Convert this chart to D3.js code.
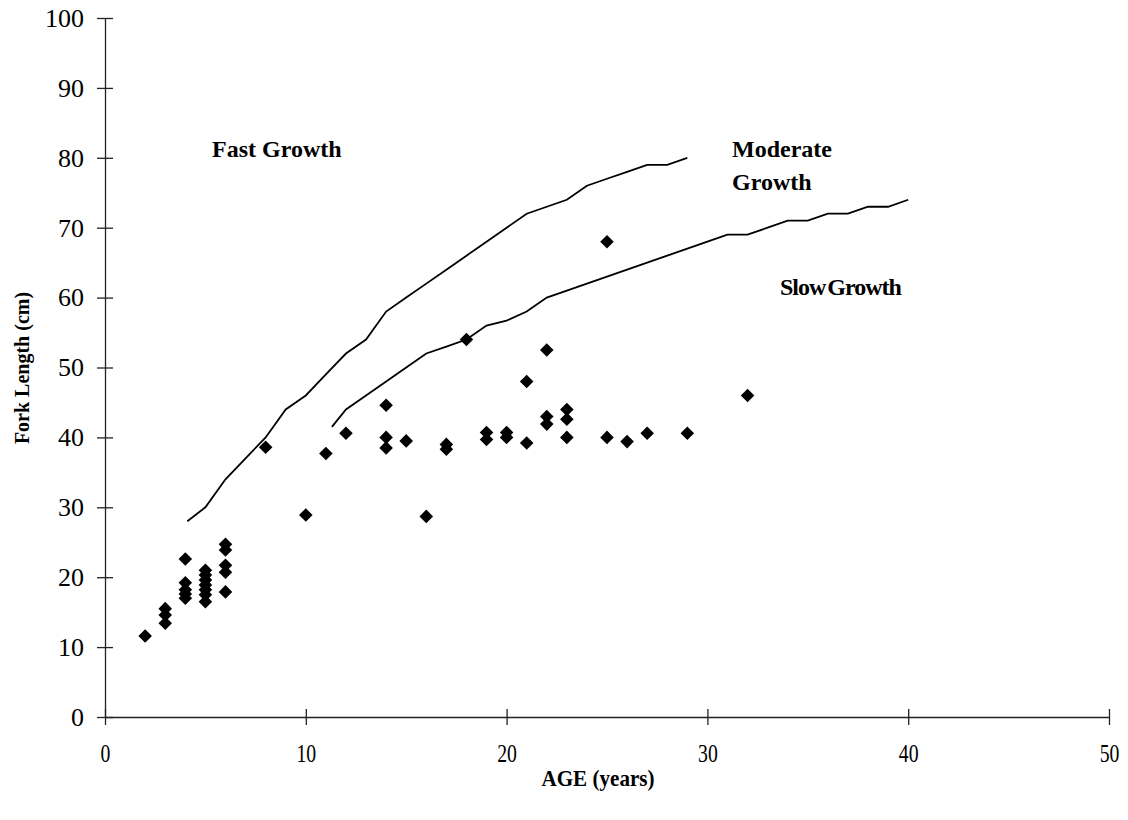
<!DOCTYPE html>
<html>
<head>
<meta charset="utf-8">
<script src="https://cdn.jsdelivr.net/npm/d3@7"></script>
<style>
  body { margin: 0; background: #fff; }
  svg { display: block; font-family: "Liberation Serif", "Times New Roman", serif; }
</style>
</head>
<body>
<svg id="chart" width="1128" height="820"></svg>
<script>
// observed age / fork length pairs
let ages = [2, 3, 3, 3, 4, 4, 4, 4, 4, 5, 5, 5, 5, 5, 5, 5, 6, 6, 6, 6, 6,
            8, 10, 11, 12, 14, 14, 14, 15, 16, 17, 17, 18, 19, 19, 20, 20,
            21, 21, 22, 22, 22, 23, 23, 23, 25, 25, 26, 27, 29, 32];
let lengths = [11.6, 15.5, 14.6, 13.4, 22.6, 19.2, 18.2, 17.6, 17.0, 21.0, 20.3, 19.6, 18.9, 18.2, 17.5, 16.5,
               24.7, 23.9, 21.7, 20.7, 17.9,
               38.6, 28.9, 37.7, 40.6, 44.6, 40.0, 38.5, 39.5, 28.7, 39.0, 38.3, 54.0, 40.7, 39.7, 40.7, 40.0,
               48.0, 39.2, 52.5, 43.0, 41.9, 44.0, 42.6, 40.0, 68.0, 40.0, 39.4, 40.6, 40.6, 46.0];

// growth curves
let fastAges = [4.1, 5, 6, 7, 8, 9, 10, 11, 12, 13, 14, 15, 16, 17, 18, 19, 20, 21, 22, 23, 24, 25, 26, 27, 28, 29];
let fastLen  = [28, 30, 34, 37, 40, 44, 46, 49, 52, 54, 58, 60, 62, 64, 66, 68, 70, 72, 73, 74, 76, 77, 78, 79, 79, 80];

let modAges = [11.3, 12, 13, 14, 15, 16, 17, 18, 19, 20, 21, 22, 23, 24, 25, 26, 27, 28, 29, 30,
               31, 32, 33, 34, 35, 36, 37, 38, 39, 40];
let modLen  = [41.5, 44, 46, 48, 50, 52, 53, 54, 56, 56.7, 58, 60, 61, 62, 63, 64, 65, 66, 67, 68,
               69, 69, 70, 71, 71, 72, 72, 73, 73, 74];

let xTicks = [0, 10, 20, 30, 40, 50];
let yTicks = [0, 10, 20, 30, 40, 50, 60, 70, 80, 90, 100];

let svg = d3.select("#chart");

let x = d3.scaleLinear().domain([0, 50]).range([105, 1109]);
let y = d3.scaleLinear().domain([0, 100]).range([717, 18]);

// axes, ticks cross the axis line
let yAxis = svg.append("g")
    .attr("transform", "translate(105,0)")
    .call(d3.axisLeft(y).tickValues(yTicks).tickSize(8).tickSizeOuter(0).tickPadding(13));
yAxis.selectAll(".tick line").attr("x1", 8);

let xAxis = svg.append("g")
    .attr("transform", "translate(0,717)")
    .call(d3.axisBottom(x).tickValues(xTicks).tickSize(8).tickSizeOuter(0).tickPadding(19));
xAxis.selectAll(".tick line").attr("y1", -8);

svg.selectAll(".domain, .tick line").attr("stroke", "#222").attr("stroke-width", 1.3);
yAxis.selectAll(".tick text")
    .attr("fill", "#000")
    .style("font-family", "Liberation Serif")
    .style("font-size", "26px");
// x tick labels look narrower in the original
xAxis.selectAll(".tick text")
    .attr("fill", "#000")
    .style("font-family", "Liberation Serif")
    .style("font-size", "26px")
    .attr("transform", "scale(0.76,1)");

// curves
let line = d3.line().x(d => x(d[0])).y(d => y(d[1]));
let curves = [d3.zip(fastAges, fastLen), d3.zip(modAges, modLen)];
svg.selectAll("path.curve")
    .data(curves)
    .enter().append("path")
    .attr("class", "curve")
    .attr("d", line)
    .attr("fill", "none")
    .attr("stroke", "#000")
    .attr("stroke-width", 1.8);

// diamonds
let sym = d3.symbol().type(d3.symbolSquare).size(92);
svg.selectAll("path.pt")
    .data(d3.zip(ages, lengths))
    .enter().append("path")
    .attr("class", "pt")
    .attr("d", sym)
    .attr("transform", d => "translate(" + x(d[0]) + "," + y(d[1]) + ") rotate(45)")
    .attr("fill", "#000");

// labels
let labels = [
    {t: "Fast Growth", x: 212, y: 157, ls: 0, ws: 0},
    {t: "Moderate", x: 732, y: 157, ls: 0, ws: 0},
    {t: "Growth", x: 732, y: 190, ls: 0, ws: 0},
    {t: "Slow Growth", x: 780, y: 295, ls: -1, ws: -3}
];
svg.selectAll("text.lab")
    .data(labels)
    .enter().append("text")
    .attr("class", "lab")
    .attr("x", d => d.x)
    .attr("y", d => d.y)
    .style("font-size", "24px")
    .style("font-weight", "bold")
    .style("letter-spacing", d => d.ls + "px")
    .style("word-spacing", d => d.ws + "px")
    .text(d => d.t);

svg.append("text")
    .attr("transform", "translate(598,786) scale(0.88,1)")
    .attr("text-anchor", "middle")
    .style("font-size", "24px")
    .style("font-weight", "bold")
    .text("AGE (years)");

svg.append("text")
    .attr("transform", "translate(29,368) rotate(-90)")
    .attr("text-anchor", "middle")
    .style("font-size", "20px")
    .style("font-weight", "bold")
    .text("Fork Length (cm)");
</script>
</body>
</html>
